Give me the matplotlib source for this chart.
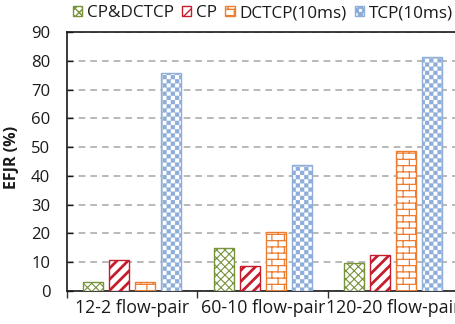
import warnings
warnings.filterwarnings("ignore")
import numpy as np
import matplotlib
matplotlib.use("Agg")
import matplotlib.pyplot as plt
import matplotlib.hatch as mhatch
from matplotlib.path import Path

# ---------------- data ----------------
categories = ["12-2 flow-pair", "60-10 flow-pair", "120-20 flow-pair"]
series_names = ["CP&DCTCP", "CP", "DCTCP(10ms)", "TCP(10ms)"]
cp_dctcp = [3.3, 15.0, 9.8]
cp = [10.6, 8.6, 12.4]
dctcp = [3.2, 20.5, 48.7]
tcp = [75.7, 43.8, 81.3]
y_ticks = [0, 10, 20, 30, 40, 50, 60, 70, 80, 90]

# ---------------- custom hatches ----------------
class CheckerHatch(mhatch.HatchPatternBase):
    """'k' -> checkerboard of filled squares."""
    def __init__(self, hatch, density):
        self.n = 24 if 'k' in hatch else 0
        if self.n:
            self.squares = [(c, r) for r in range(self.n) for c in range(self.n)
                            if (r + c) % 2 == 0]
        else:
            self.squares = []
        self.num_vertices = 5 * len(self.squares)

    def set_vertices_and_codes(self, vertices, codes):
        n = self.n
        s = 0.02 / n
        i = 0
        for c, r in self.squares:
            x0, y0 = c / n + s, r / n + s
            x1, y1 = (c + 1) / n - s, (r + 1) / n - s
            vertices[i:i + 5] = [(x0, y0), (x1, y0), (x1, y1), (x0, y1), (x0, y0)]
            codes[i:i + 5] = [Path.MOVETO, Path.LINETO, Path.LINETO,
                              Path.LINETO, Path.CLOSEPOLY]
            i += 5


class BrickHatch(mhatch.HatchPatternBase):
    """'b' -> brick pattern (horizontal lines with staggered short verticals)."""
    def __init__(self, hatch, density):
        self.rows = 16 if 'b' in hatch else 0
        self.cols = 8
        self.num_vertices = 2 * (self.rows + self.rows * self.cols)

    def set_vertices_and_codes(self, vertices, codes):
        R, C = self.rows, self.cols
        i = 0
        for r in range(R):
            y = (r + 0.5) / R
            vertices[i:i + 2] = [(0.0, y), (1.0, y)]
            codes[i:i + 2] = [Path.MOVETO, Path.LINETO]
            i += 2
        for r in range(R):
            y0 = (r + 0.5) / R
            y1 = (r + 1.5) / R
            for k in range(C):
                x = (k + 0.25 + 0.5 * (r % 2)) / C
                vertices[i:i + 2] = [(x, y0), (x, min(y1, 1.0))]
                codes[i:i + 2] = [Path.MOVETO, Path.LINETO]
                i += 2


mhatch._hatch_types.append(CheckerHatch)
mhatch._hatch_types.append(BrickHatch)
mhatch._validate_hatch_pattern = lambda h: None

# ---------------- style ----------------
plt.rcParams['font.family'] = ['Open Sans', 'DejaVu Sans']
plt.rcParams['lines.scale_dashes'] = False
plt.rcParams['hatch.linewidth'] = 1.0

colors = ["#77933C", "#C41E2E", "#ED7D31", "#8EADD8"]
hatches = ["xxxx", "///", "b", "k"]
hatch_lws = [0.8, 2.0, 0.9, 0.2]

fig = plt.figure(figsize=(4.56, 3.24), dpi=100)
ax = fig.add_axes([67 / 456, 1 - 291 / 324, (458.5 - 67) / 456, (291 - 32) / 324])

x = np.arange(len(categories))
offsets = [-0.3, -0.1, 0.1, 0.3]
bar_w = 0.152
all_series = [cp_dctcp, cp, dctcp, tcp]
handles = []
for vals, off, col, h, hlw, name in zip(all_series, offsets, colors, hatches,
                                        hatch_lws, series_names):
    bars = ax.bar(x + off, vals, width=bar_w, facecolor="white", edgecolor=col,
                  hatch=h, linewidth=1.0, label=name, zorder=3)
    for b in bars:
        if hasattr(b, "set_hatch_linewidth"):
            b.set_hatch_linewidth(hlw)
    handles.append(bars)

ax.set_ylim(0, 90)
ax.set_xlim(-0.5, 2.5)
ax.set_yticks(y_ticks)
ax.set_yticklabels([str(v) for v in y_ticks])
ax.yaxis.grid(True, color="#A6A6A6", linewidth=1.1, linestyle=(0, (4.8, 3.6)), zorder=0)
ax.set_axisbelow(True)

ax.set_xticks(x)
ax.set_xticklabels(categories)
ax.set_xticks([-0.5, 0.5, 1.5, 2.5], minor=True)
ax.tick_params(axis="x", which="major", length=0, pad=6, labelsize=12.8, colors="#1a1a1a")
ax.tick_params(axis="x", which="minor", length=5, width=1.0, direction="out", color="#333333")
ax.tick_params(axis="y", length=4, width=1.0, direction="in", pad=12, labelsize=12,
               colors="#1a1a1a")

for side in ["left", "bottom", "top"]:
    ax.spines[side].set_color("#1a1a1a")
    ax.spines[side].set_linewidth(1.2)
ax.spines["right"].set_visible(False)

fig.text(12 / 456, 1 - 157 / 324, "EFJR (%)", rotation=90, ha="center", va="center",
         fontsize=11.5, fontweight="bold", color="#1a1a1a")

leg = fig.legend(handles=handles, labels=series_names, loc="center",
                 bbox_to_anchor=(263 / 456, 1 - 13 / 324), ncol=4, frameon=False,
                 fontsize=12.3, handlelength=0.55, handleheight=0.55,
                 handletextpad=0.3, columnspacing=0.45, borderpad=0, borderaxespad=0)
for t in leg.get_texts():
    t.set_color("#1a1a1a")

fig.savefig("out.png", dpi=100)
